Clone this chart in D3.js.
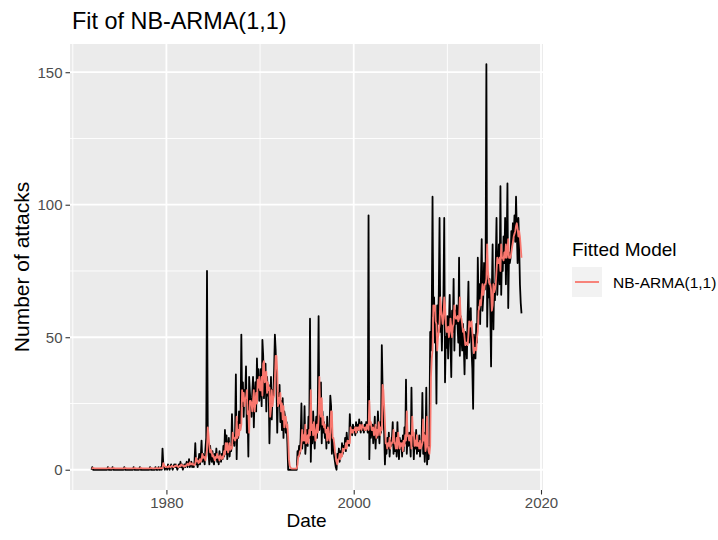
<!DOCTYPE html>
<html>
<head>
<meta charset="utf-8">
<script src="https://cdn.jsdelivr.net/npm/d3@7"></script>
<style>
  body { margin: 0; background: #fff; }
  svg { display: block; font-family: "Liberation Sans", Arial, sans-serif; }
</style>
</head>
<body>
<svg id="chart" width="718" height="540"></svg>
<script>
// monthly counts, Jan 1972 .. Dec 2017, one year per line
const startYear = 1972;
const attacks = [
  0,1,0,0,0,0,0,0,0,0,0,0,
  0,0,0,0,0,0,0,0,0,1,0,0,
  0,0,0,1,0,0,0,0,0,0,0,0,
  0,0,0,0,0,0,1,0,0,0,0,0,
  0,0,0,0,0,0,1,0,0,0,0,0,
  0,0,1,0,0,0,0,0,0,0,0,0,
  0,0,0,1,0,0,0,0,0,0,1,0,
  0,0,1,0,0,1,0,8,2,1,0,1,
  1,0,2,1,0,1,2,1,0,1,2,1,
  2,1,0,1,2,1,3,1,2,0,1,2,
  1,2,3,1,2,4,1,2,3,1,2,1,
  3,10,2,4,1,3,6,2,5,11,3,6,
  4,2,8,12,75,14,6,2,9,5,3,7,
  3,2,6,4,8,3,5,2,7,4,3,6,
  4,9,5,15,6,13,4,8,12,5,9,7,
  21,10,12,9,14,36,4,18,12,22,15,20,
  51,24,33,20,30,28,39,14,22,5,35,29,
  25,20,29,35,16,28,33,22,42,30,38,26,
  30,38,24,49,43,27,35,40,22,35,28,32,
  10,24,35,19,30,28,38,51,45,33,14,29,
  24,32,18,26,15,27,12,22,20,14,18,10,
  0,0,0,0,0,0,0,0,0,0,0,0,
  7,5,9,6,12,25,8,14,10,24,6,11,
  15,9,20,12,57,3,18,10,22,14,8,16,
  20,12,25,58,15,18,33,10,22,14,18,12,
  16,8,20,12,10,15,28,24,6,12,9,5,
  3,1,0,6,4,8,3,7,5,10,6,9,
  8,12,7,14,10,11,9,21,14,16,13,17,
  15,16,13,18,14,17,15,19,16,14,18,15,
  16,14,17,15,18,16,14,96,4,18,12,15,
  17,10,14,20,8,16,12,22,15,10,18,14,
  47,31,20,14,2,10,6,12,8,14,5,11,
  9,12,18,6,10,7,14,5,18,9,4,12,
  8,11,5,13,7,16,10,34,6,12,9,14,
  11,5,31,9,14,4,12,8,15,6,10,7,
  13,5,9,11,29,6,14,3,10,31,2,8,
  4,14,52,45,60,103,58,65,48,56,25,62,
  55,66,95,52,58,45,60,66,95,33,50,46,
  58,42,55,66,48,35,60,52,72,45,60,55,
  62,55,48,80,43,58,50,45,55,48,36,52,
  50,42,58,71,48,55,61,45,38,23,51,47,
  42,55,48,80,62,70,55,72,87,60,65,78,
  68,75,153,54,70,65,72,60,39,68,85,53,
  70,64,78,95,66,75,85,70,107,66,82,75,
  88,78,95,70,85,108,61,82,78,80,90,85,
  93,88,96,86,103,90,78,95,85,70,63,59
];

// NB-ARMA(1,1) fitted means, same months
const fitted = [
  .5,.5,.7,.6,.5,.5,.5,.5,.5,.5,.5,.5,
  .5,.5,.5,.5,.5,.5,.5,.5,.5,.5,.7,.6,
  .5,.5,.5,.5,.7,.6,.5,.5,.5,.5,.5,.5,
  .5,.5,.5,.5,.5,.5,.5,.7,.6,.5,.5,.5,
  .5,.5,.5,.5,.5,.5,.5,.7,.6,.5,.5,.5,
  .5,.5,.5,.7,.6,.5,.5,.5,.5,.5,.5,.5,
  .5,.5,.5,.5,.7,.6,.5,.5,.5,.5,.5,.7,
  .6,.5,.5,.7,.6,.5,.7,.6,2.5,1.8,1.3,1,
  1.1,1.1,.9,1.4,1.3,1,1.1,1.5,1.3,1,1.1,1.5,
  1.4,1.7,1.4,1,1.1,1.5,1.3,2,1.6,1.7,1.2,1.2,
  1.6,1.4,1.8,2.3,1.7,1.8,2.8,2,2,2.5,1.9,2,
  1.7,2.3,4.5,3.2,3.5,2.5,2.8,4,3,3.8,6,4.5,
  5,4.5,3.5,5.5,7.5,16,13,9,6.5,7.5,6.5,5,
  5.5,4.5,3.5,4.8,4.5,6,4.5,5,3.5,5.5,4.5,4,
  5,4.5,7,5.8,10,7.5,10,6.5,7.5,10,7.5,8.5,
  8,14,12,12,11,12,20,12,15,13,17,15,
  17,30,26,29,24,27,27,30,21,22,14,26,
  26,25,22,26,30,22,25,29,25,34,31,35,
  30,30,35,28,40,41,33,34,37,29,33,30,
  31,20,23,30,24,27,28,34,43,43,37,24,
  27,25,29,22,25,19,24,16,20,20,16,17,
  12,4,1.5,.8,.5,.4,.4,.4,.4,.4,.4,.5,
  2,5,5,7,7,10,15,11,13,11,17,10,
  11,13,10,15,13,30,15,17,13,18,15,11,
  14,17,14,19,35,22,20,27,17,20,16,17,
  14,15,11,16,13,11,14,22,22,12,12,10,
  7,5,3,2,4,4,6,4,6,5,8,7,
  8,8,10,8,11,10,11,10,16,14,15,14,
  15,15,16,14,16,15,16,15,17,16,15,17,
  16,16,15,16,15,17,16,15,26,17,18,15,
  15,16,13,14,17,12,15,13,18,16,13,16,
  15,32,30,24,18,10,10,8,10,9,12,8,
  10,10,11,15,10,10,8,12,8,14,11,8,
  10,9,10,7,11,9,13,11,22,13,13,11,
  13,12,8,20,13,14,9,11,9,13,9,10,
  8,11,8,9,10,19,11,13,7,9,20,9,
  7,6,9,35,42,45,62,60,62,56,55,45,
  50,52,55,65,60,58,55,57,65,62,55,52,
  52,54,50,52,57,54,50,54,55,62,58,57,
  57,58,56,57,65,58,57,55,52,53,50,47,
  48,48,47,51,56,54,55,56,52,48,44,46,
  46,45,50,52,60,61,64,62,66,70,66,68,
  70,70,72,85,75,72,70,70,68,60,62,70,
  67,68,70,75,80,78,78,80,75,85,80,80,
  79,82,80,85,80,82,87,80,80,80,82,84,
  86,88,89,90,92,93,91,88,90,88,84,80
];

const xMajor = [1980, 2000, 2020];
const xMinor = [1970, 1990, 2010];
const yMajor = [0, 50, 100, 150];
const yMinor = [25, 75, 125];

const panel = {left: 70, top: 44, right: 543, bottom: 490};
const svg = d3.select("#chart");

const series = attacks.map((v, i) => ({t: startYear + i / 12, obs: v, fit: fitted[i]}));

// ggplot-style 5% expansion
const tExt = d3.extent(series, d => d.t);
const tPad = (tExt[1] - tExt[0]) * 0.05;
const yMax = d3.max(series, d => Math.max(d.obs, d.fit));
const yPad = yMax * 0.05;

const x = d3.scaleLinear()
    .domain([tExt[0] - tPad, tExt[1] + tPad])
    .range([panel.left, panel.right]);

const y = d3.scaleLinear()
    .domain([-yPad, yMax + yPad])
    .range([panel.bottom, panel.top]);

// panel background
svg.append("rect")
    .attr("x", panel.left).attr("y", panel.top)
    .attr("width", panel.right - panel.left)
    .attr("height", panel.bottom - panel.top)
    .attr("fill", "#EBEBEB");

// grid
const grid = svg.append("g").attr("stroke", "#fff");
grid.selectAll(".ymin").data(yMinor).enter().append("line")
    .attr("x1", panel.left).attr("x2", panel.right)
    .attr("y1", d => y(d)).attr("y2", d => y(d))
    .attr("stroke-width", 0.9);
grid.selectAll(".xmin").data(xMinor).enter().append("line")
    .attr("y1", panel.top).attr("y2", panel.bottom)
    .attr("x1", d => x(d)).attr("x2", d => x(d))
    .attr("stroke-width", 0.9);
grid.selectAll(".ymaj").data(yMajor).enter().append("line")
    .attr("x1", panel.left).attr("x2", panel.right)
    .attr("y1", d => y(d)).attr("y2", d => y(d))
    .attr("stroke-width", 1.8);
grid.selectAll(".xmaj").data(xMajor).enter().append("line")
    .attr("y1", panel.top).attr("y2", panel.bottom)
    .attr("x1", d => x(d)).attr("x2", d => x(d))
    .attr("stroke-width", 1.8);

// lines
const obsLine = d3.line().x(d => x(d.t)).y(d => y(d.obs));
const fitLine = d3.line().x(d => x(d.t)).y(d => y(d.fit));

svg.append("path")
    .datum(series)
    .attr("fill", "none")
    .attr("stroke", "#000")
    .attr("stroke-width", 1.8)
    .attr("stroke-linejoin", "round")
    .attr("d", obsLine);

svg.append("path")
    .datum(series)
    .attr("fill", "none")
    .attr("stroke", "#F8766D")
    .attr("stroke-width", 1.8)
    .attr("stroke-linejoin", "round")
    .attr("d", fitLine);

// axes
const xAxis = svg.append("g")
    .attr("transform", `translate(0,${panel.bottom})`)
    .call(d3.axisBottom(x).tickValues(xMajor).tickFormat(d3.format("d")).tickSize(4.5).tickPadding(3));
const yAxis = svg.append("g")
    .attr("transform", `translate(${panel.left},0)`)
    .call(d3.axisLeft(y).tickValues(yMajor).tickSize(4.5).tickPadding(3));

[xAxis, yAxis].forEach(a => {
    a.select(".domain").remove();
    a.selectAll(".tick line").attr("stroke", "#333").attr("stroke-width", 1.1);
    a.selectAll(".tick text")
        .attr("fill", "#4D4D4D")
        .style("font-size", "15px")
        .style("font-family", "'Liberation Sans', Arial, sans-serif");
});

// titles
svg.append("text")
    .attr("x", 72).attr("y", 29)
    .style("font-size", "23.4px")
    .text("Fit of NB-ARMA(1,1)");

svg.append("text")
    .attr("x", (panel.left + panel.right) / 2).attr("y", 527)
    .attr("text-anchor", "middle")
    .style("font-size", "19px")
    .text("Date");

svg.append("text")
    .attr("transform", `translate(29,${(panel.top + panel.bottom) / 2}) rotate(-90)`)
    .attr("text-anchor", "middle")
    .style("font-size", "21px")
    .text("Number of attacks");

// legend
const legend = svg.append("g").attr("transform", "translate(572,0)");
legend.append("text")
    .attr("x", 0).attr("y", 256)
    .style("font-size", "19px")
    .text("Fitted Model");
legend.append("rect")
    .attr("x", 0).attr("y", 267)
    .attr("width", 30).attr("height", 30)
    .attr("fill", "#F2F2F2");
legend.append("line")
    .attr("x1", 3).attr("x2", 27)
    .attr("y1", 282).attr("y2", 282)
    .attr("stroke", "#F8766D")
    .attr("stroke-width", 1.8);
legend.append("text")
    .attr("x", 41).attr("y", 288)
    .style("font-size", "15.5px")
    .text("NB-ARMA(1,1)");
</script>
</body>
</html>
